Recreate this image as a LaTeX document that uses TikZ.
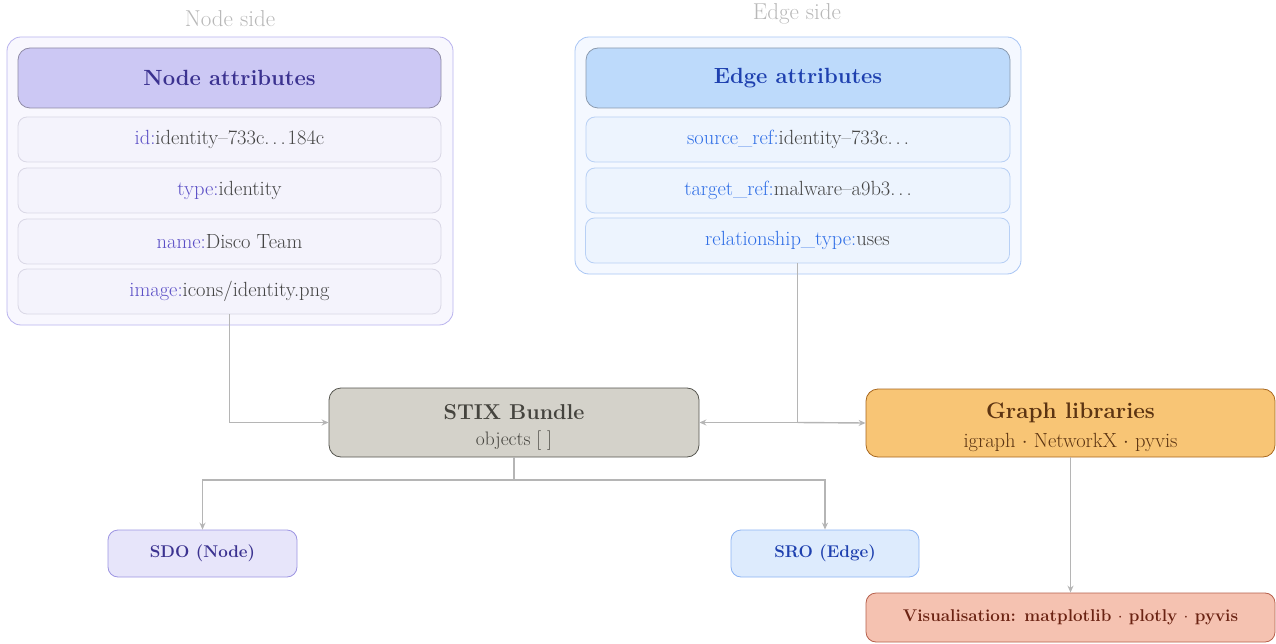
\documentclass[tikz,border=0pt]{standalone}
\usetikzlibrary{arrows.meta,positioning}
\definecolor{nof}{HTML}{F8F7FE}\definecolor{nod}{HTML}{B9B3EE}
\definecolor{ntf}{HTML}{CCC8F4}\definecolor{ntd}{HTML}{8F8BA6}\definecolor{ntt}{HTML}{3B3290}
\definecolor{nrf}{HTML}{F4F3FC}\definecolor{nrd}{HTML}{DAD8E6}\definecolor{nk}{HTML}{5B4FC6}
\definecolor{val}{HTML}{444444}
\definecolor{eof}{HTML}{F4F8FF}\definecolor{eod}{HTML}{A8C5F4}
\definecolor{etf}{HTML}{BDDAFB}\definecolor{etd}{HTML}{8A9AAE}\definecolor{ett}{HTML}{1E40AF}
\definecolor{erf}{HTML}{EDF4FE}\definecolor{erd}{HTML}{B8D0F5}\definecolor{ek}{HTML}{2F6EE6}
\definecolor{sf}{HTML}{D4D2CA}\definecolor{sd}{HTML}{55554F}\definecolor{st}{HTML}{45443E}
\definecolor{gf}{HTML}{F8C575}\definecolor{gd}{HTML}{A8671E}\definecolor{gt}{HTML}{5C3412}
\definecolor{vf}{HTML}{F5C2B1}\definecolor{vd}{HTML}{B6604C}\definecolor{vt}{HTML}{6B2313}
\definecolor{sdof}{HTML}{E7E5FA}\definecolor{sdod}{HTML}{9D95E2}
\definecolor{srof}{HTML}{DDEBFD}\definecolor{srod}{HTML}{8CB3F3}
\definecolor{conn}{HTML}{B5B5B5}\definecolor{sidelbl}{HTML}{B8B8B8}
\newcommand{\sdots}{.\kern3pt.\kern3pt.}
\tikzset{
  box/.style={rounded corners=12pt, line width=0.8pt, align=center, inner sep=0pt},
  outerbox/.style={box, rounded corners=14pt},
  titlebox/.style={box, minimum height=60pt, font=\fontsize{22}{26}\selectfont\bfseries},
  rowbox/.style={box, rounded corners=9pt, minimum height=45pt, font=\fontsize{20.5}{24}\selectfont},
  sidelabel/.style={text=sidelbl, font=\fontsize{23}{26}\selectfont},
  connector/.style={draw=conn, line width=1.4pt, -{Stealth[length=7pt,width=6pt]}},
  plainconn/.style={draw=conn, line width=1.4pt},
}
\begin{document}
\begin{tikzpicture}[x=1pt,y=-1pt]
\useasboundingbox (0,0) rectangle (1276,644);
% Node side
\node[sidelabel] (nside) at (230,19) {Node side};
\node[outerbox, fill=nof, draw=nod, minimum width=446pt, minimum height=288pt] (nouter) at (230,181) {};
\node[titlebox, fill=ntf, draw=ntd, text=ntt, minimum width=423pt] (ntitle) at (229.5,78) {Node attributes};
\node[rowbox, fill=nrf, draw=nrd, text=val, minimum width=423pt] (nr1) at (229.5,139.5) {\textcolor{nk}{id:}identity--733c\sdots\kern2pt 184c};
\node[rowbox, fill=nrf, draw=nrd, text=val, minimum width=423pt] (nr2) at (229.5,190.5) {\textcolor{nk}{type:}identity};
\node[rowbox, fill=nrf, draw=nrd, text=val, minimum width=423pt] (nr3) at (229.5,241.5) {\textcolor{nk}{name:}Disco Team};
\node[rowbox, fill=nrf, draw=nrd, text=val, minimum width=423pt] (nr4) at (229.5,291.5) {\textcolor{nk}{image:}icons/identity.png};
% Edge side
\node[sidelabel] (eside) at (797,14) {Edge side};
\node[outerbox, fill=eof, draw=eod, minimum width=446pt, minimum height=237pt] (eouter) at (798,155.5) {};
\node[titlebox, fill=etf, draw=etd, text=ett, minimum width=424pt] (etitle) at (798,78) {Edge attributes};
\node[rowbox, fill=erf, draw=erd, text=val, minimum width=424pt] (er1) at (798,139.5) {\textcolor{ek}{source\_ref:}identity--733c\sdots};
\node[rowbox, fill=erf, draw=erd, text=val, minimum width=424pt] (er2) at (798,190.5) {\textcolor{ek}{target\_ref:}malware--a9b3\sdots};
\node[rowbox, fill=erf, draw=erd, text=val, minimum width=424pt] (er3) at (797.5,240.5) {\textcolor{ek}{relationship\_type:}uses};
% Middle
\node[box, fill=sf, draw=sd, minimum width=370pt, minimum height=69pt] (stix) at (514,422.5)
  {\rule{0pt}{24pt}{\fontsize{21.5}{24}\selectfont\bfseries\color{st}STIX Bundle}\\[10pt]{\fontsize{19.5}{22}\selectfont\color{st}objects [ ]}};
\node[box, fill=gf, draw=gd, text=gt, minimum width=409pt, minimum height=68pt] (graph) at (1070.5,423)
  {\rule{0pt}{24pt}{\fontsize{22.5}{24}\selectfont\bfseries Graph libraries}\\[10pt]{\fontsize{20.5}{22}\selectfont igraph $\cdot$ NetworkX $\cdot$ pyvis}};
\node[box, rounded corners=10pt, fill=vf, draw=vd, text=vt, minimum width=409pt, minimum height=49pt, font=\fontsize{17}{20}\selectfont\bfseries] (vis) at (1070.5,617.5)
  {Visualisation: matplotlib $\cdot$ plotly $\cdot$ pyvis};
\node[box, rounded corners=10pt, fill=sdof, draw=sdod, text=ntt, minimum width=189pt, minimum height=47pt, font=\fontsize{17}{20}\selectfont\bfseries] (sdo) at (202.5,553.5) {SDO (Node)};
\node[box, rounded corners=10pt, fill=srof, draw=srod, text=ett, minimum width=188pt, minimum height=47pt, font=\fontsize{17}{20}\selectfont\bfseries] (sro) at (825,553.5) {SRO (Edge)};
% Connectors
\draw[connector] (nr4.south) |- (stix.west);
\coordinate (ej) at (er3.south |- stix.east);
\draw[plainconn] (er3.south) -- (ej);
\draw[connector] (ej) -- (stix.east);
\draw[connector] (ej) -- (graph.west);
\coordinate (sj) at (514,480);
\draw[plainconn] (stix.south) -- (sj);
\draw[connector] (sj) -| (sdo.north);
\draw[connector] (sj) -| (sro.north);
\draw[connector] (graph.south) -- (vis.north);
\end{tikzpicture}
\end{document}
